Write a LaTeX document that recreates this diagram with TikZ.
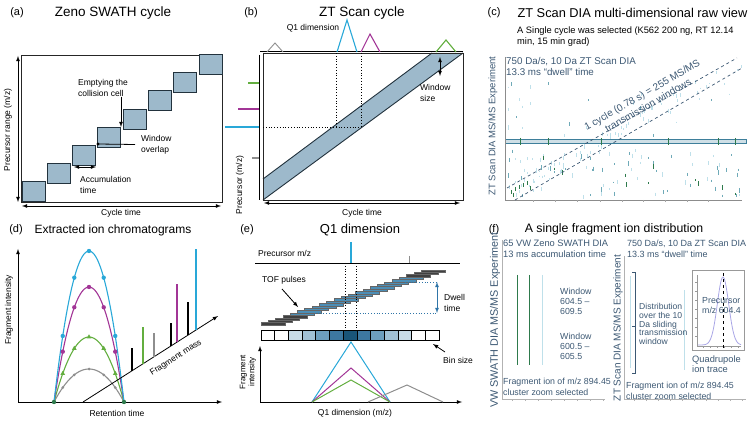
\documentclass[tikz,border=0pt]{standalone}
\usepackage{fontspec}
\setmainfont{Liberation Sans}
\usetikzlibrary{positioning, arrows, shapes.geometric}

\definecolor{boxfill}{HTML}{9DB9CB}
\definecolor{boxline}{HTML}{22323D}
\definecolor{cyanc}{HTML}{29A8D8}
\definecolor{magc}{HTML}{A23596}
\definecolor{greenc}{HTML}{63AE3F}
\definecolor{grayc}{HTML}{8E8E8E}
\definecolor{textblue}{HTML}{3C5873}
\definecolor{tofblue}{HTML}{4C8EB6}
\definecolor{dwellblue}{HTML}{2F75A8}
\definecolor{bin1}{HTML}{C8DCE7}
\definecolor{bin2}{HTML}{A1C1D5}
\definecolor{bin3}{HTML}{6D9EBD}
\definecolor{bin4}{HTML}{3D78A0}
\definecolor{bin5}{HTML}{195579}
\definecolor{tkgreen}{HTML}{2E7A4C}
\definecolor{tkteal}{HTML}{6FAAB8}
\definecolor{tklight}{HTML}{BFE0EA}
\definecolor{bandc}{HTML}{3E7F9B}
\definecolor{lav}{HTML}{A9A6E6}

\tikzset{
  tag/.style={font=\fontsize{11}{13}\selectfont},
  ptitle/.style={font=\fontsize{#1}{14}\selectfont},
  ptitle/.default=12,
  lbl/.style={font=\fontsize{8.5}{11}\selectfont, inner sep=0pt, align=left},
  note/.style={font=\fontsize{8.5}{10.5}\selectfont, text=textblue, inner sep=0pt, align=left},
  frame/.style={draw=black!85, line width=0.8},
  swbox/.style={draw=boxline, fill=boxfill, line width=1},
  dbl/.style={latex-latex, line width=0.8},
  axis/.style={-latex, line width=0.8},
  dot/.style={circle, fill=#1, inner sep=0pt, minimum size=4.4pt},
  tri/.style={regular polygon, regular polygon sides=3, fill=#1, inner sep=0pt, minimum size=5.5pt},
  pk/.style={line width=0.8},
}

\begin{document}
\begin{tikzpicture}[x=1pt, y=-1pt]
  \useasboundingbox (0,0) rectangle (750,422);

  % (a) Zeno SWATH cycle
  \node[tag] (taga) at (17,13) {(a)};
  \node[ptitle=13.5] (titlea) at (113,13) {Zeno SWATH cycle};
  \draw[frame] (21,55) rectangle (222,202);
  \foreach \k in {0,...,7}
    \draw[swbox] ({22+25.3*\k},{182-18.2*\k}) rectangle ++(23,20);
  \coordinate (ya0) at (18,202);
  \coordinate (ya1) at (18,56);
  \coordinate (xa0) at (22,206);
  \coordinate (xa1) at (221,206);
  \draw[dbl] (ya0) -- (ya1);
  \draw[dbl] (xa0) -- (xa1);
  \node[lbl, rotate=90] (ylaba) at (8,130) {Precursor range (m/z)};
  \node[lbl] (xlaba) at (121,213) {Cycle time};
  \node[lbl, anchor=north west] (empty) at (78,79) {Emptying the\\collision cell};
  \coordinate (emptytip) at (121,127);
  \draw[-latex, line width=0.8] (empty.south -| emptytip) -- (emptytip);
  \node[lbl, anchor=west] (overlap) at (141,144.5) {Window\\overlap};
  \coordinate (ovtip) at (98,144);
  \draw[line width=0.8] ([xshift=-6pt]overlap.west) -- (ovtip);
  \fill (ovtip) circle (1.6);
  \node[lbl, anchor=north west] (accum) at (80,176) {Accumulation\\time};
  \coordinate (acc0) at (74,167);
  \coordinate (acc1) at (96,167);
  \draw[dbl] (acc0) -- (acc1);

  % (b) ZT Scan cycle
  \node[tag] (tagb) at (251,13) {(b)};
  \node[ptitle=13.5] (titleb) at (362,13) {ZT Scan cycle};
  \fill[boxfill] (263,179) -- (432,53) -- (463,53) -- (263,200) -- cycle;
  \draw[boxline, line width=0.9] (263,179) -- (432,53);
  \draw[boxline, line width=0.9] (263,200) -- (463,53);
  \draw[frame] (263,53) rectangle (463,200);
  \draw[line width=1] (260,52) -- (463,52);
  \draw[line width=0.8] (259,55) -- (259,200);
  \draw[dotted, line width=0.8] (263,127) -- (361,127);
  \draw[dotted, line width=0.8] (336,53) -- (336,127);
  \draw[dotted, line width=0.8] (361,53) -- (361,127);
  \draw[grayc, line width=0.9] (267,52) -- (275,43) -- (283,52);
  \draw[cyanc, line width=1.1] (337,52) -- (347,20) -- (357,52);
  \draw[magc, line width=1.1] (361,52) -- (370,34) -- (380,52);
  \draw[greenc, line width=1.1] (436,52) -- (446,40) -- (456,52);
  \draw[greenc, line width=1.1] (248,83) -- (259,83);
  \draw[magc, line width=1.1] (238,109) -- (259,109);
  \draw[cyanc, line width=1.1] (225,127) -- (259,127);
  \draw[grayc, line width=1.1] (252,158) -- (259,158);
  \node[lbl] (q1lab) at (313,28) {Q1 dimension};
  \coordinate (ws0) at (440,57);
  \coordinate (ws1) at (440,76);
  \draw[dbl] (ws0) -- (ws1);
  \node[lbl, anchor=north west] (wsize) at (420,84) {Window\\size};
  \node[lbl, rotate=90] (ylabb) at (240,185) {Precursor (m/z)};
  \coordinate (xb0) at (264,203);
  \coordinate (xb1) at (460,203);
  \draw[dbl] (xb0) -- (xb1);
  \node[lbl] (xlabb) at (362,213) {Cycle time};

  % (c) raw view
  \node[tag] (tagc) at (494,13) {(c)};
  \node[ptitle=12.8, anchor=west] (titlec) at (514,13) {ZT Scan DIA multi-dimensional raw view};
  \node[lbl, font=\fontsize{9.3}{11}\selectfont, anchor=north west] (subc) at (517,26.5) {A Single cycle was selected (K562 200 ng, RT 12.14\\min, 15 min grad)};
  \node[font=\fontsize{9.5}{11}\selectfont, text=textblue, rotate=90] (ylabc) at (493,126) {ZT Scan DIA MS/MS Experiment};
  \pgfmathsetseed{42}
  \pgfmathdeclarerandomlist{lowcols}{{tkgreen}{tkteal}{tkteal}{tkteal}{tklight}{tklight}{tklight}{tklight}}
  \pgfmathdeclarerandomlist{upcols}{{tkteal}{tklight}{tklight}{tklight}{tklight}}
  \foreach \i in {1,...,95}{
    \pgfmathsetmacro\px{507+233*rnd}
    \pgfmathsetmacro\py{148+47*rnd}
    \pgfmathsetmacro\pl{1.5+3.5*rnd}
    \pgfmathrandomitem\pc{lowcols}
    \draw[\pc, pk] (\px,\py) -- ++(0,\pl);
  }
  \foreach \i in {1,...,28}{
    \pgfmathsetmacro\px{507+233*rnd}
    \pgfmathsetmacro\py{80+55*rnd}
    \pgfmathsetmacro\pl{1.5+3*rnd}
    \pgfmathrandomitem\pc{upcols}
    \draw[\pc, pk] (\px,\py) -- ++(0,\pl);
  }
  \foreach \i in {1,...,60}{
    \pgfmathsetmacro\dpos{rnd}
    \pgfmathsetmacro\dofs{rnd}
    \pgfmathsetmacro\px{507+230*\dpos+8*\dofs}
    \pgfmathsetmacro\py{186-130*\dpos+10*\dofs}
    \pgfmathsetmacro\pl{1.5+3*rnd}
    \draw[tklight, pk] (\px,\py) -- ++(0,\pl);
  }
  \foreach \px/\py in {511/190, 515/187, 519/185, 523/183, 527/181, 513/193, 530/186}
    \draw[tkgreen, pk] (\px,\py) -- ++(0,4);
  \draw[bandc, fill=bandc!25, line width=0.7] (505,139.5) rectangle (746,143.5);
  \foreach \x in {520,548,601,668,718,735}
    \draw[tkgreen, line width=0.9] (\x,138) -- (\x,145);
  \draw[black!45, line width=0.6] (505,57) -- (505,200) -- (742,200);
  \foreach \x in {533,555,577,600,622,643,665,687,708}
    \draw[black!35, line width=0.4] (\x,200) -- (\x,202);
  \draw[dashed, textblue, line width=0.7] (507,188) -- (737,58);
  \draw[dashed, textblue, line width=0.7] (515,200) -- (742,68);
  \node[note, font=\fontsize{10}{12}\selectfont, align=center, rotate=30] (cycle) at (645,100) {1 cycle (0.78 s) = 255 MS/MS\\transmission windows};
  \node[note, font=\fontsize{9.8}{11}\selectfont, anchor=north west] (infoc) at (506,57) {750 Da/s, 10 Da ZT Scan DIA\\13.3 ms ``dwell'' time};

  % (d) extracted ion chromatograms
  \node[tag] (tagd) at (16,230) {(d)};
  \node[ptitle=12] (titled) at (113,230) {Extracted ion chromatograms};
  \coordinate (od) at (18,402);
  \coordinate (yd) at (18,249);
  \coordinate (xd) at (222,402);
  \draw[axis] (od) -- (yd);
  \draw[axis] (od) -- (xd);
  \node[lbl, rotate=90] (ylabd) at (9,310) {Fragment intensity};
  \node[lbl] (xlabd) at (117,413) {Retention time};
  \foreach \c/\h in {grayc/33, greenc/65, magc/115, cyanc/151}
    \draw[\c, line width=1.1] plot[domain=-1:1, samples=41] ({89+35*\x},{402-\h*(1-\x*\x)});
  \foreach \u in {-0.75,-0.42,0,0.42,0.75}{
    \node[dot=cyanc] at ({89+35*\u},{402-151*(1-\u*\u)}) {};
    \node[dot=magc] at ({89+35*\u},{402-115*(1-\u*\u)}) {};
    \node[tri=greenc] at ({89+35*\u},{402-65*(1-\u*\u)}) {};
    \node[dot=grayc, minimum size=3pt] at ({89+35*\u},{402-33*(1-\u*\u)}) {};
  }
  \node[dot=tkgreen] at (54,402) {};
  \node[dot=tkgreen] at (124,402) {};
  \coordinate (fm0) at (83,402);
  \coordinate (fm1) at (218,316);
  \draw[axis] (fm0) -- (fm1);
  \node[lbl, rotate=32.5] (fmass) at (176,358) {Fragment mass};
  \foreach \x/\t/\c in {132/348/black, 143/327/greenc, 154/333/grayc, 171/323/black, 177/284/magc, 188/302/black, 196/249/cyanc}
    \draw[\c, line width=1.6] (\x,{402-(\x-83)*0.637}) -- (\x,\t);

  % (e) Q1 dimension
  \node[tag] (tage) at (247,230) {(e)};
  \node[ptitle=13] (titlee) at (360,230) {Q1 dimension};
  \node[lbl, anchor=west] (precmz) at (258,253) {Precursor m/z};
  \draw[line width=0.8] (255,263) -- (460,263);
  \draw[cyanc, line width=1.5] (351,242) -- (351,263);
  \draw[grayc, line width=0.9] (409,256) -- (409,263);
  \foreach \n in {0,...,22}{
    \ifnum\n<4 \def\bc{black!75}\else\ifnum\n>19 \def\bc{black!75}\else\def\bc{tofblue}\fi\fi
    \filldraw[fill=\bc, draw=black!60, line width=0.3] ({261+7.27*\n},{322.6-2.4*\n}) rectangle ++(24,2.4);
  }
  \draw[dotted, line width=0.8] (345,263) -- (345,330);
  \draw[dotted, line width=0.8] (356,263) -- (356,330);
  \node[lbl, anchor=west] (tof) at (262,280) {TOF pulses};
  \coordinate (toftip) at (298,307);
  \draw[-latex, line width=0.8] (282,289) -- (toftip);
  \draw[dotted, dwellblue, line width=0.8] (405,282) -- (438,282);
  \draw[dotted, dwellblue, line width=0.8] (315,313) -- (438,313);
  \coordinate (dw0) at (437,282);
  \coordinate (dw1) at (437,313);
  \draw[latex-latex, dwellblue, line width=0.8] (dw0) -- (dw1);
  \node[lbl, anchor=west] (dwell) at (444,302.5) {Dwell\\time};
  \foreach \i/\c in {0/white,1/white,2/bin1,3/bin2,4/bin3,5/bin4,6/bin5,7/bin4,8/bin3,9/bin2,10/bin1,11/white,12/white}
    \draw[fill=\c, line width=0.8] ({261+13.7*\i},330) rectangle ++(13.7,10);
  \node[lbl, anchor=west] (binsize) at (443,360) {Bin size};
  \coordinate (bintip) at (433,344);
  \draw[-latex, line width=0.8] (445,352) -- (bintip);
  \coordinate (oe) at (260,402);
  \coordinate (ye) at (260,346);
  \coordinate (xe) at (462,402);
  \draw[axis] (oe) -- (ye);
  \draw[axis] (oe) -- (xe);
  \node[lbl, font=\fontsize{8}{9}\selectfont, align=center, rotate=90] (ylabe) at (248,372) {Fragment\\intensity};
  \node[lbl] (xlabe) at (355,413) {Q1 dimension (m/z)};
  \draw[cyanc, line width=1] (312,402) -- (351,342) -- (390,402);
  \draw[magc, line width=1] (312,402) -- (351,368) -- (390,402);
  \draw[greenc, line width=1] (312,402) -- (351,380) -- (390,402);
  \draw[grayc, line width=1] (368,402) -- (407,385) -- (443,402);

  % (f) single fragment ion distribution
  \node[tag] (tagf) at (494,230) {(f)};
  \node[ptitle=12.3] (titlef) at (614,229) {A single fragment ion distribution};
  \node[font=\fontsize{10.8}{12}\selectfont, text=textblue, rotate=90] (ylabf1) at (495,320) {VW SWATH DIA MS/MS Experiment};
  \node[font=\fontsize{10}{12}\selectfont, text=textblue, rotate=90] (ylabf2) at (618,328) {ZT Scan DIA MS/MS Experiment};
  \draw[black!30, line width=0.5] (502,240) -- (502,399) -- (605,399);
  \draw[black!30, line width=0.5] (624,256) -- (624,399) -- (746,399);
  \foreach \x in {512,525,538,551,564,577,590,603}
    \draw[black!30, line width=0.4] (\x,399) -- (\x,401);
  \foreach \x in {634,646,658,670,682,694,706,718,730,742}
    \draw[black!30, line width=0.4] (\x,399) -- (\x,401);
  \node[note, font=\fontsize{9.3}{10.5}\selectfont, anchor=north west] (infof1) at (503,240) {65 VW Zeno SWATH DIA\\13 ms accumulation time};
  \node[note, font=\fontsize{9}{10.5}\selectfont, anchor=north west] (infof2) at (627,240) {750 Da/s, 10 Da ZT Scan DIA\\13.3 ms ``dwell'' time};
  \draw[tkgreen, line width=0.9] (517,275) -- (517,365);
  \draw[tkgreen, line width=0.9] (529,275) -- (529,365);
  \draw[tklight, line width=0.9] (542,275) -- (542,365);
  \node[note, font=\fontsize{8.8}{9.8}\selectfont, anchor=north west] (win1) at (560,288) {Window\\604.5 --\\609.5};
  \node[note, font=\fontsize{8.8}{9.8}\selectfont, anchor=north west] (win2) at (560,333) {Window\\600.5 --\\605.5};
  \node[note, font=\fontsize{8.8}{10.5}\selectfont, anchor=north west] (fragf1) at (503,378) {Fragment ion of m/z 894.45\\cluster zoom selected};
  \draw[tklight, line width=0.9] (630,276) -- (630,368);
  \draw[tklight, line width=0.9] (684,290) -- (684,370);
  \draw[textblue, line width=0.7] (632,272) -- (635,272) -- (635,373) -- (632,373);
  \draw[textblue, line width=0.7] (632,326) -- (635,326);
  \node[note, font=\fontsize{8.6}{8.6}\selectfont, anchor=north west] (distr) at (639,303.5) {Distribution\\over the 10\\Da sliding\\transmission\\window};
  \draw[black!40, line width=0.5] (692,270) rectangle (744,350);
  \draw[black!40, line width=0.4] (697,275) -- (697,346) -- (741,346);
  \foreach \y in {282,291,300,309,318,327,336}
    \draw[black!40, line width=0.3] (695,\y) -- (697,\y);
  \foreach \x in {703,710,717,724,731,738}
    \draw[black!40, line width=0.3] (\x,346) -- (\x,348);
  \draw[lav, line width=0.8] plot[domain=698:741, samples=60] (\x,{345-68*exp(-((\x-723)/8)^2)});
  \draw[dashed, line width=0.9] (723,273) -- (723,350);
  \node[note, font=\fontsize{8.8}{10}\selectfont, anchor=north west] (prec) at (702,297) {Precursor\\m/z 604.4};
  \node[note, font=\fontsize{9.3}{10}\selectfont, anchor=north west] (quad) at (692,356) {Quadrupole\\ion trace};
  \node[note, font=\fontsize{8.8}{10.5}\selectfont, anchor=north west] (fragf2) at (626,382) {Fragment ion of m/z 894.45\\cluster zoom selected};
\end{tikzpicture}
\end{document}
